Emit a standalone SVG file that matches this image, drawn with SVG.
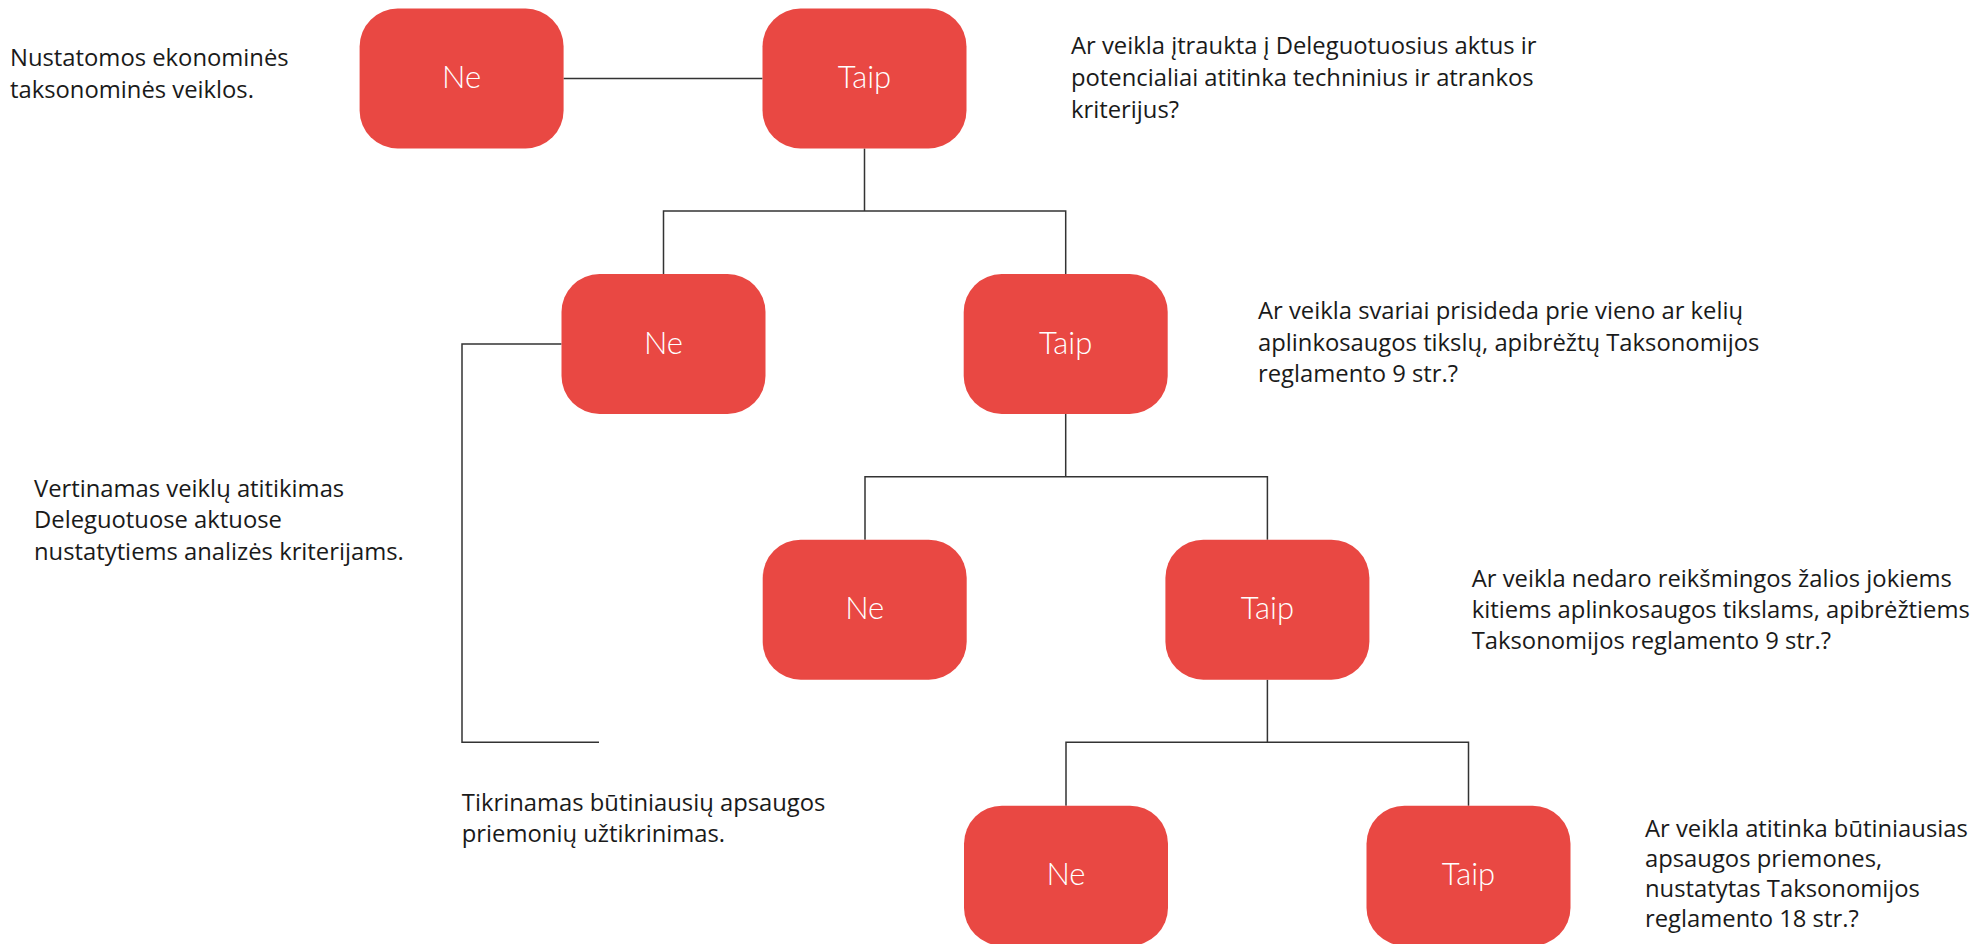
<svg xmlns="http://www.w3.org/2000/svg" width="1980" height="944" viewBox="0 0 1980 944">
<style>
.box{fill:#E94843;}
.lbl{font-family:"Lato","Liberation Sans",sans-serif;font-weight:300;font-size:31px;fill:#ffffff;text-anchor:middle;}
.txt{font-family:"Open Sans","Liberation Sans",sans-serif;font-size:23.8px;fill:#1a1a1a;}
.con{fill:none;stroke:#333333;stroke-width:1.5;}
</style>
<rect width="1980" height="944" fill="#ffffff"/>
<g id="connectors">
<path class="con" d="M563.5,78.5 H762.5"/>
<path class="con" d="M864.5,148.5 V211 M663.5,274 V211 H1065.7 V274"/>
<path class="con" d="M561.5,344 H462 V742.3 H599"/>
<path class="con" d="M1065.7,414 V476.7 M865,539.7 V476.7 H1267.4 V539.7"/>
<path class="con" d="M1267.4,679.7 V742.3 M1066,805.7 V742.3 H1468.5 V805.7"/>
</g>
<g id="n-ne1"><rect class="box" x="359.6" y="8.5" width="204" height="140" rx="38"/><text class="lbl" x="461.6" y="88">Ne</text></g>
<g id="n-taip1"><rect class="box" x="762.5" y="8.5" width="204" height="140" rx="38"/><text class="lbl" x="864.5" y="88">Taip</text></g>
<g id="n-ne2"><rect class="box" x="561.5" y="274" width="204" height="140" rx="38"/><text class="lbl" x="663.5" y="353.5">Ne</text></g>
<g id="n-taip2"><rect class="box" x="963.7" y="274" width="204" height="140" rx="38"/><text class="lbl" x="1065.7" y="353.5">Taip</text></g>
<g id="n-ne3"><rect class="box" x="762.7" y="539.7" width="204" height="140" rx="38"/><text class="lbl" x="864.7" y="619.2">Ne</text></g>
<g id="n-taip3"><rect class="box" x="1165.4" y="539.7" width="204" height="140" rx="38"/><text class="lbl" x="1267.4" y="619.2">Taip</text></g>
<g id="n-ne4"><rect class="box" x="964" y="805.7" width="204" height="140" rx="38"/><text class="lbl" x="1066" y="885.2">Ne</text></g>
<g id="n-taip4"><rect class="box" x="1366.5" y="805.7" width="204" height="140" rx="38"/><text class="lbl" x="1468.5" y="885.2">Taip</text></g>
<g id="t1"><text class="txt" x="10" y="66">Nustatomos ekonominės</text><text class="txt" x="10" y="98">taksonominės veiklos.</text></g>
<g id="t2"><text class="txt" x="1071" y="54">Ar veikla įtraukta į Deleguotuosius aktus ir</text><text class="txt" x="1071" y="86">potencialiai atitinka techninius ir atrankos</text><text class="txt" x="1071" y="118">kriterijus?</text></g>
<g id="t3"><text class="txt" x="1258" y="319">Ar veikla svariai prisideda prie vieno ar kelių</text><text class="txt" x="1258" y="350.7">aplinkosaugos tikslų, apibrėžtų Taksonomijos</text><text class="txt" x="1258" y="382">reglamento 9 str.?</text></g>
<g id="t4"><text class="txt" x="34" y="496.7">Vertinamas veiklų atitikimas</text><text class="txt" x="34" y="528.3">Deleguotuose aktuose</text><text class="txt" x="34" y="560">nustatytiems analizės kriterijams.</text></g>
<g id="t5"><text class="txt" x="1471.7" y="587.3">Ar veikla nedaro reikšmingos žalios jokiems</text><text class="txt" x="1471.7" y="618.3">kitiems aplinkosaugos tikslams, apibrėžtiems</text><text class="txt" x="1471.7" y="649.3">Taksonomijos reglamento 9 str.?</text></g>
<g id="t6"><text class="txt" x="461.8" y="810.7">Tikrinamas būtiniausių apsaugos</text><text class="txt" x="461.8" y="841.7">priemonių užtikrinimas.</text></g>
<g id="t7"><text class="txt" x="1645" y="836.7">Ar veikla atitinka būtiniausias</text><text class="txt" x="1645" y="866.7">apsaugos priemones,</text><text class="txt" x="1645" y="896.7">nustatytas Taksonomijos</text><text class="txt" x="1645" y="926.7">reglamento 18 str.?</text></g>
</svg>
